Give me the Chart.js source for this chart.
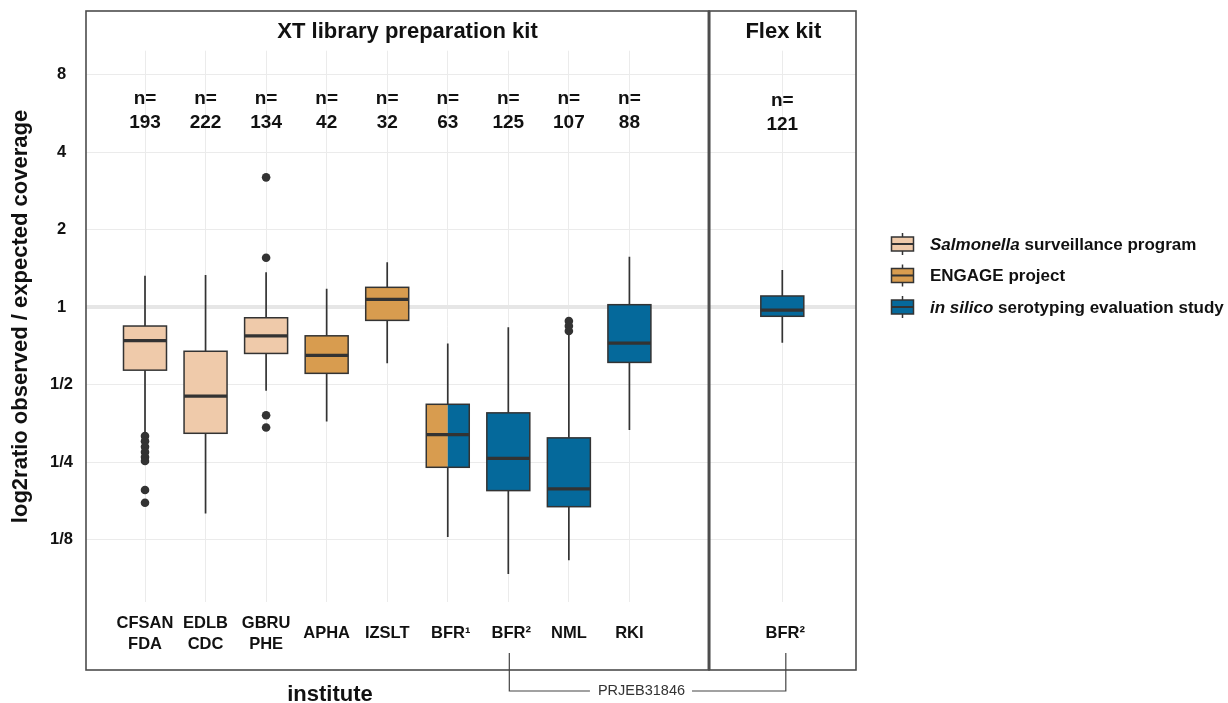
<!DOCTYPE html>
<html>
<head>
<meta charset="utf-8">
<script src="https://cdn.jsdelivr.net/npm/chart.js@4.4.1/dist/chart.umd.min.js"></script>
<style>
    html, body { margin: 0; padding: 0; background: #fff; }
    #grafico { display: block; }
</style>
</head>
<body>
<canvas id="grafico" width="1228" height="703"></canvas>
<script>
// Datos: ratio observado / esperado por instituto
const institutos = [['CFSAN', 'FDA'], ['EDLB', 'CDC'], ['GBRU', 'PHE'], ['APHA'], ['IZSLT'], ['BFR¹'], ['BFR²'], ['NML'], ['RKI'], ['BFR²']];
const kits = ['XT', 'XT', 'XT', 'XT', 'XT', 'XT', 'XT', 'XT', 'XT', 'Flex'];
const programas = ['salmonella', 'salmonella', 'salmonella', 'engage', 'engage', 'engage+insilico', 'insilico', 'insilico', 'insilico', 'insilico'];
const tamanos = [193, 222, 134, 42, 32, 63, 125, 107, 88, 121];
const bigoteBajo = [0.324, 0.158, 0.474, 0.360, 0.606, 0.128, 0.092, 0.104, 0.334, 0.728];
const cuartil1 = [0.570, 0.324, 0.662, 0.554, 0.890, 0.239, 0.194, 0.168, 0.611, 0.923];
const mediana = [0.742, 0.452, 0.775, 0.651, 1.074, 0.320, 0.259, 0.197, 0.726, 0.976];
const cuartil3 = [0.846, 0.675, 0.911, 0.775, 1.196, 0.420, 0.389, 0.311, 1.024, 1.107];
const bigoteAlto = [1.327, 1.335, 1.368, 1.181, 1.496, 0.724, 0.836, 0.792, 1.573, 1.397];
const atipicos = [
    [0.316, 0.302, 0.287, 0.274, 0.262, 0.253, 0.195, 0.174],
    [],
    [3.20, 1.558, 0.381, 0.341],
    [], [], [], [],
    [0.884, 0.846, 0.809],
    [], []
];
const ticksY = [-3, -2, -1, 0, 1, 2, 3];
const titulosKit = ['XT library preparation kit', 'Flex kit'];
const leyenda = [
    { programa: 'salmonella', partes: [['Salmonella', true], [' surveillance program', false]] },
    { programa: 'engage', partes: [['ENGAGE project', false]] },
    { programa: 'insilico', partes: [['in silico', true], [' serotyping evaluation study', false]] }
];

// Estilos y disposicion
const FUENTE = '"Liberation Sans", Arial, Helvetica, sans-serif';
const colores = { salmonella: '#EFCAAA', engage: '#D89C4F', insilico: '#05699B' };
const OSCURO = '#333333';
const POS_FLEX = 11.525;
const DIVISOR = 10.315;
const ANCHO = 0.71;

function posiciones() {
    let n = 0;
    return kits.map(function(k) {
        if (k === 'XT') {
            n++;
            return n;
        }
        return POS_FLEX;
    });
}
const xs = posiciones();

function etiquetaY(v) {
    if (v >= 0) return String(Math.pow(2, v));
    return '1/' + Math.pow(2, -v);
}

function dibujarCaja(ctx, x0, x1, yQ3, yQ1, yMed, partes, grosorMed) {
    const w = (x1 - x0) / partes.length;
    partes.forEach(function(p, j) {
        ctx.fillStyle = colores[p];
        ctx.fillRect(x0 + j * w, yQ3, w, yQ1 - yQ3);
    });
    ctx.strokeStyle = OSCURO;
    ctx.lineWidth = 1.5;
    ctx.strokeRect(x0, yQ3, x1 - x0, yQ1 - yQ3);
    ctx.lineWidth = grosorMed;
    ctx.beginPath();
    ctx.moveTo(x0, yMed);
    ctx.lineTo(x1, yMed);
    ctx.stroke();
}

const cajasPlugin = {
    id: 'cajas',
    beforeDatasetsDraw: function(chart) {
        const ctx = chart.ctx;
        const x = chart.scales.x;
        const y = chart.scales.y;
        ctx.save();
        xs.forEach(function(pos, i) {
            const cx = x.getPixelForValue(pos);
            const x0 = x.getPixelForValue(pos - ANCHO / 2);
            const x1 = x.getPixelForValue(pos + ANCHO / 2);
            const yLo = y.getPixelForValue(Math.log2(bigoteBajo[i]));
            const yQ1 = y.getPixelForValue(Math.log2(cuartil1[i]));
            const yMed = y.getPixelForValue(Math.log2(mediana[i]));
            const yQ3 = y.getPixelForValue(Math.log2(cuartil3[i]));
            const yHi = y.getPixelForValue(Math.log2(bigoteAlto[i]));

            // bigotes
            ctx.strokeStyle = OSCURO;
            ctx.lineWidth = 1.7;
            ctx.beginPath();
            ctx.moveTo(cx, yHi);
            ctx.lineTo(cx, yQ3);
            ctx.moveTo(cx, yQ1);
            ctx.lineTo(cx, yLo);
            ctx.stroke();

            dibujarCaja(ctx, x0, x1, yQ3, yQ1, yMed, programas[i].split('+'), 3.2);
        });
        ctx.restore();
    },
    afterDraw: function(chart) {
        const ctx = chart.ctx;
        const x = chart.scales.x;
        const area = chart.chartArea;
        const arriba = 11;
        const abajo = 670;
        const xDiv = x.getPixelForValue(DIVISOR);
        ctx.save();

        // marcos de los paneles
        ctx.strokeStyle = '#4D4D4D';
        ctx.lineWidth = 1.6;
        ctx.strokeRect(area.left, arriba, xDiv - area.left, abajo - arriba);
        ctx.strokeRect(xDiv, arriba, area.right - xDiv, abajo - arriba);
        ctx.lineWidth = 3;
        ctx.beginPath();
        ctx.moveTo(xDiv, arriba);
        ctx.lineTo(xDiv, abajo);
        ctx.stroke();

        // titulos de panel
        ctx.fillStyle = '#111';
        ctx.textAlign = 'center';
        ctx.textBaseline = 'middle';
        ctx.font = 'bold 22px ' + FUENTE;
        ctx.fillText(titulosKit[0], (area.left + xDiv) / 2 + 10, 32);
        ctx.fillText(titulosKit[1], x.getPixelForValue(POS_FLEX) + 1, 32);

        // n= y etiquetas del eje x
        xs.forEach(function(pos, i) {
            const cx = x.getPixelForValue(pos);
            const dy = kits[i] === 'Flex' ? 2.4 : 0;
            ctx.font = 'bold 19px ' + FUENTE;
            ctx.fillText('n=', cx, 98.5 + dy);
            ctx.fillText(String(tamanos[i]), cx, 122.8 + dy);

            ctx.font = 'bold 16.5px ' + FUENTE;
            const lineas = institutos[i];
            if (lineas.length === 2) {
                ctx.fillText(lineas[0], cx, 623);
                ctx.fillText(lineas[1], cx, 644.5);
            } else {
                ctx.fillText(lineas[0], cx + (lineas[0].indexOf('BFR') === 0 ? 3 : 0), 633.5);
            }
        });

        // titulos de ejes
        ctx.font = 'bold 22px ' + FUENTE;
        ctx.textBaseline = 'alphabetic';
        ctx.fillText('institute', 330, 701);
        ctx.save();
        ctx.translate(21, 316.5);
        ctx.rotate(-Math.PI / 2);
        ctx.textBaseline = 'middle';
        ctx.fillText('log2ratio observed / expected coverage', 0, 0);
        ctx.restore();

        // corchete PRJEB31846
        const bx0 = x.getPixelForValue(xs[6]) + 1;
        const bx1 = x.getPixelForValue(xs[9]) + 3.5;
        const by0 = 653;
        const by1 = 691;
        ctx.font = '14.5px ' + FUENTE;
        const txt = 'PRJEB31846';
        const tw = ctx.measureText(txt).width;
        const tcx = bx0 + (bx1 - bx0) * 0.478;
        ctx.strokeStyle = '#444';
        ctx.lineWidth = 1.2;
        ctx.beginPath();
        ctx.moveTo(bx0, by0);
        ctx.lineTo(bx0, by1);
        ctx.lineTo(tcx - tw / 2 - 8, by1);
        ctx.moveTo(tcx + tw / 2 + 7, by1);
        ctx.lineTo(bx1, by1);
        ctx.lineTo(bx1, by0);
        ctx.stroke();
        ctx.fillStyle = '#333';
        ctx.textBaseline = 'middle';
        ctx.fillText(txt, tcx, by1);

        // leyenda
        leyenda.forEach(function(item, k) {
            const cy = 244 + k * 31.5;
            const kx = 902.5;
            ctx.strokeStyle = OSCURO;
            ctx.lineWidth = 1.5;
            ctx.beginPath();
            ctx.moveTo(kx, cy - 11);
            ctx.lineTo(kx, cy + 11);
            ctx.stroke();
            dibujarCaja(ctx, kx - 11, kx + 11, cy - 7, cy + 7, cy, [item.programa], 2);

            let tx = 930;
            ctx.fillStyle = '#111';
            ctx.textAlign = 'left';
            ctx.textBaseline = 'middle';
            item.partes.forEach(function(p) {
                ctx.font = (p[1] ? 'italic bold ' : 'bold ') + '17px ' + FUENTE;
                ctx.fillText(p[0], tx, cy + 1);
                tx += ctx.measureText(p[0]).width;
            });
        });
        ctx.restore();
    }
};

// Puntos atipicos
const puntos = [];
atipicos.forEach(function(lista, i) {
    lista.forEach(function(v) {
        puntos.push({ x: xs[i], y: Math.log2(v) });
    });
});

new Chart(document.getElementById('grafico'), {
    type: 'scatter',
    data: {
        datasets: [{
            label: 'outliers',
            data: puntos,
            backgroundColor: OSCURO,
            borderWidth: 0,
            pointRadius: 4.3
        }]
    },
    options: {
        responsive: false,
        devicePixelRatio: 1,
        animation: false,
        layout: { padding: { left: 0, top: 50.7, right: 372, bottom: 101.3 } },
        plugins: {
            legend: { display: false },
            tooltip: { enabled: false }
        },
        scales: {
            x: {
                type: 'linear',
                min: 0.0256,
                max: 12.742,
                border: { display: false },
                grid: { color: '#EBEBEB', lineWidth: 1, drawTicks: false },
                ticks: { display: false },
                afterBuildTicks: function(scale) {
                    scale.ticks = xs.map(function(v) { return { value: v }; });
                },
                afterFit: function(scale) { scale.height = 0; }
            },
            y: {
                type: 'linear',
                min: -3.80,
                max: 3.313,
                border: { display: false },
                grid: {
                    drawTicks: false,
                    color: function(c) { return c.tick && c.tick.value === 0 ? '#E6E6E6' : '#EBEBEB'; },
                    lineWidth: function(c) { return c.tick && c.tick.value === 0 ? 4 : 1; }
                },
                afterBuildTicks: function(scale) {
                    scale.ticks = ticksY.map(function(v) { return { value: v }; });
                },
                afterFit: function(scale) { scale.width = 86; },
                ticks: {
                    crossAlign: 'center',
                    padding: 13,
                    color: '#111',
                    font: { family: FUENTE, size: 16.5, weight: 'bold' },
                    callback: function(v) { return etiquetaY(v); }
                }
            }
        }
    },
    plugins: [cajasPlugin]
});
</script>
</body>
</html>
